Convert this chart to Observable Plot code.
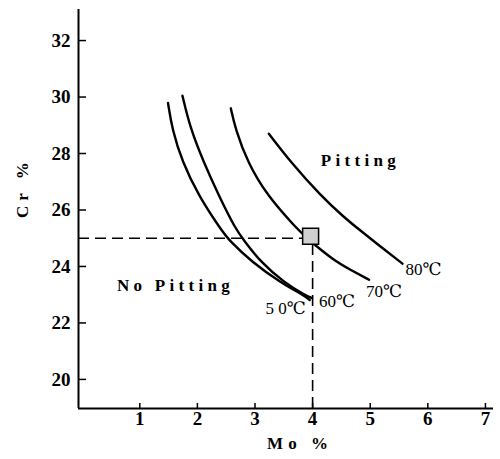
<!DOCTYPE html>
<html>
<head>
<meta charset="utf-8">
<script src="https://cdn.jsdelivr.net/npm/d3@7"></script>
<script src="https://cdn.jsdelivr.net/npm/@observablehq/plot@0.6"></script>
<style>
  html, body { margin: 0; padding: 0; background: #fff; }
  #chart svg { display: block; }
</style>
</head>
<body>
<div id="chart"></div>
<script>
// ---- data ----
const xTicks = [1, 2, 3, 4, 5, 6, 7];
const yTicks = [20, 22, 24, 26, 28, 30, 32];

const mo50 = [1.49, 1.56, 1.74, 2.02, 2.40, 2.55, 2.95, 3.44, 3.85, 3.95];
const cr50 = [29.79, 28.87, 27.69, 26.51, 25.33, 24.92, 24.15, 23.44, 22.97, 22.81];

const mo60 = [1.74, 1.88, 2.11, 2.37, 2.66, 2.81, 3.10, 3.50, 3.88, 3.99];
const cr60 = [30.05, 28.87, 27.69, 26.51, 25.33, 24.92, 24.15, 23.44, 22.97, 22.88];

const mo70 = [2.58, 2.66, 2.87, 3.21, 3.73, 3.91, 4.37, 4.66, 4.98];
const cr70 = [29.60, 28.87, 27.69, 26.51, 25.33, 24.98, 24.21, 23.88, 23.53];

const mo80 = [3.24, 3.62, 4.14, 4.54, 4.83, 5.12, 5.56];
const cr80 = [28.70, 27.69, 26.51, 25.75, 25.27, 24.80, 24.10];

const curveLabels = ["5 0℃", "60℃", "70℃", "80℃"];

const markMo = 4;     // dashed reference point
const markCr = 25;

const regionLabels = ["Pitting", "No Pitting"];
const regionMo = [4.83, 1.62];
const regionCr = [27.75, 23.33];

const xTitle = "Mo %";
const yTitle = "Cr %";

// ---- build ----
const xDomain = [-0.064, 7.14];
const yDomain = [18.97, 33.1];

const series = [
  {mo: mo50, cr: cr50, label: curveLabels[0], dx: -4, dy: 8, anchor: "end"},
  {mo: mo60, cr: cr60, label: curveLabels[1], dx: 7, dy: 3, anchor: "start"},
  {mo: mo70, cr: cr70, label: curveLabels[2], dx: -3, dy: 12, anchor: "start"},
  {mo: mo80, cr: cr80, label: curveLabels[3], dx: 3, dy: 6, anchor: "start"}
];

const serif = "'Liberation Serif', 'DejaVu Serif', serif";

const marks = [];

// axis lines
marks.push(Plot.ruleX([xDomain[0]], {stroke: "#000", strokeWidth: 2}));
marks.push(Plot.ruleY([yDomain[0]], {stroke: "#000", strokeWidth: 2}));

// axes (ticks pointing inward)
marks.push(Plot.axisY(yTicks, {
  tickSize: -8, tickPadding: 16, strokeWidth: 1.5,
  fontSize: 19, fontWeight: "bold", fontFamily: serif, fill: "#000", label: null
}));
marks.push(Plot.axisX(xTicks, {
  tickSize: -5, tickPadding: 8, strokeWidth: 1.5,
  fontSize: 19, fontWeight: "bold", fontFamily: serif, fill: "#000", label: null
}));

// dashed reference lines
marks.push(Plot.ruleY([markCr], {x1: xDomain[0], x2: markMo, stroke: "#000", strokeWidth: 1.6, strokeDasharray: "11,6"}));
marks.push(Plot.ruleX([markMo], {y1: yDomain[0], y2: markCr, stroke: "#000", strokeWidth: 1.6, strokeDasharray: "11,6"}));

// curves
for (const s of series) {
  const pts = s.mo.map((m, i) => ({mo: m, cr: s.cr[i]}));
  marks.push(Plot.line(pts, {x: "mo", y: "cr", curve: "basis", stroke: "#000", strokeWidth: 2.4}));
  const last = pts[pts.length - 1];
  marks.push(Plot.text([{...last, label: s.label}], {
    x: "mo", y: "cr", text: "label", dx: s.dx, dy: s.dy, textAnchor: s.anchor,
    fontSize: 17, fontFamily: serif, fill: "#000"
  }));
}

// square marker
marks.push(Plot.dot([{mo: markMo, cr: markCr}], {
  x: "mo", y: "cr", symbol: "square", r: 9, dx: -2, dy: -2,
  fill: "#cfcfcf", stroke: "#000", strokeWidth: 1.5
}));

// region labels
marks.push(Plot.text(regionLabels.map((t, i) => ({t, mo: regionMo[i], cr: regionCr[i]})), {
  x: "mo", y: "cr", text: "t", fontSize: 17, fontWeight: "bold", fontFamily: serif, fill: "#000",
  className: "spaced"
}));

// axis titles
marks.push(Plot.text([yTitle], {
  frameAnchor: "left", dx: -56, dy: 9, rotate: -90,
  fontSize: 17, fontWeight: "bold", fontFamily: serif, fill: "#000",
  className: "spaced3"
}));
marks.push(Plot.text([xTitle], {
  frameAnchor: "bottom", dx: 14, dy: 40,
  fontSize: 17, fontWeight: "bold", fontFamily: serif, fill: "#000",
  className: "spaced2"
}));

const chart = Plot.plot({
  width: 500,
  height: 459,
  marginLeft: 78,
  marginRight: 7,
  marginTop: 9,
  marginBottom: 51,
  x: {domain: xDomain},
  y: {domain: yDomain},
  style: {background: "#fff", color: "#000", fontFamily: serif, overflow: "visible"},
  marks
});

d3.select(chart).selectAll(".spaced text").attr("letter-spacing", 4.3);
d3.select(chart).selectAll(".spaced2 text").attr("letter-spacing", 5);
d3.select(chart).selectAll(".spaced3 text").attr("letter-spacing", 5);

document.getElementById("chart").appendChild(chart);
</script>
</body>
</html>
